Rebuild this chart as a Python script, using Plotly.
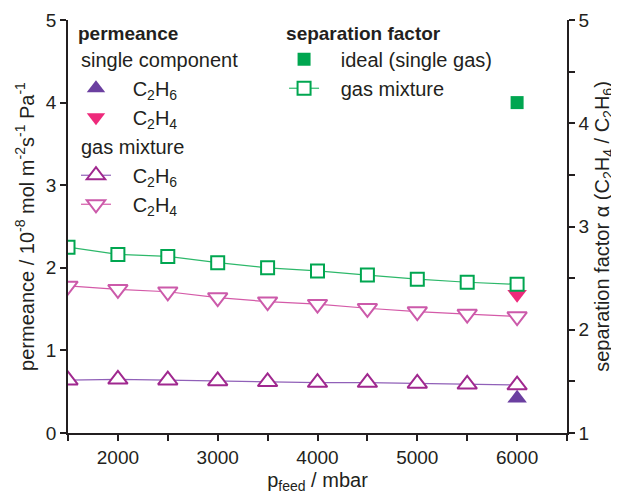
import plotly.graph_objects as go

# ---- data ----
p_feed = [1500, 2000, 2500, 3000, 3500, 4000, 4500, 5000, 5500, 6000]
perm_c2h6_mix = [0.64, 0.65, 0.64, 0.63, 0.62, 0.61, 0.61, 0.60, 0.59, 0.58]
perm_c2h4_mix = [1.78, 1.74, 1.71, 1.64, 1.59, 1.56, 1.51, 1.47, 1.44, 1.41]
sep_mix = [2.80, 2.73, 2.71, 2.65, 2.60, 2.57, 2.53, 2.49, 2.46, 2.44]

p_single = [6000]
perm_c2h6_single = [0.42]
perm_c2h4_single = [1.68]
sep_ideal = [4.20]

FONT = "Arial, Liberation Sans, Helvetica, sans-serif"
AX = "#231f20"
SP = "\u00a0\u00a0\u00a0"

fig = go.Figure()

# single component (filled)
fig.add_trace(go.Scatter(
    x=p_single, y=perm_c2h6_single, mode="markers", name=SP + "C<sub>2</sub>H<sub>6</sub>",
    marker=dict(symbol="triangle-up", size=17, color="#6b3fa0"),
    legend="legend", legendgroup="single", legendgrouptitle_text="single component"))
fig.add_trace(go.Scatter(
    x=p_single, y=perm_c2h4_single, mode="markers", name=SP + "C<sub>2</sub>H<sub>4</sub>",
    marker=dict(symbol="triangle-down", size=17, color="#ee2a7b"),
    legend="legend", legendgroup="single", legendgrouptitle_text="single component"))

# gas mixture (open, white-filled so lines break at markers)
fig.add_trace(go.Scatter(
    x=p_feed, y=perm_c2h6_mix, mode="lines+markers", name=SP + "C<sub>2</sub>H<sub>6</sub>",
    line=dict(color="#9060b8", width=1.2),
    marker=dict(symbol="triangle-up", size=17, color="white", line=dict(width=2, color="#a0288f")),
    legend="legend", legendgroup="mix", legendgrouptitle_text="gas mixture"))
fig.add_trace(go.Scatter(
    x=p_feed, y=perm_c2h4_mix, mode="lines+markers", name=SP + "C<sub>2</sub>H<sub>4</sub>",
    line=dict(color="#d45aa8", width=1.2),
    marker=dict(symbol="triangle-down", size=17, color="white", line=dict(width=2, color="#cc5aaa")),
    legend="legend", legendgroup="mix", legendgrouptitle_text="gas mixture"))

# separation factor (right axis)
fig.add_trace(go.Scatter(
    x=p_single, y=sep_ideal, mode="markers", name=SP + "ideal (single gas)", yaxis="y2",
    marker=dict(symbol="square", size=13, color="#00a650"),
    legend="legend2"))
fig.add_trace(go.Scatter(
    x=p_feed, y=sep_mix, mode="lines+markers", name=SP + "gas mixture", yaxis="y2",
    line=dict(color="#2db86a", width=1.2),
    marker=dict(symbol="square", size=13, color="white", line=dict(width=2, color="#00a650")),
    legend="legend2"))

fig.update_layout(
    width=611, height=486,
    margin=dict(l=60, r=52, t=12, b=61, autoexpand=False),
    paper_bgcolor="white", plot_bgcolor="white",
    font=dict(family=FONT, size=19, color=AX),
    xaxis=dict(
        range=[1500, 6500], tick0=0, dtick=1000, ticks="outside", ticklen=6,
        tickwidth=1.5, tickcolor=AX, showline=True, linecolor=AX, linewidth=1.5,
        showgrid=False, zeroline=False, tickfont=dict(size=19), automargin=False,
        minor=dict(dtick=500, tick0=0, ticks="outside", ticklen=6, tickwidth=1.5, tickcolor=AX, showgrid=False),
        title=dict(text="p<sub>feed</sub> / mbar", font=dict(size=20), standoff=12)),
    yaxis=dict(
        range=[0, 5], dtick=1, ticks="outside", ticklen=6, tickwidth=1.5, tickcolor=AX,
        showline=True, linecolor=AX, linewidth=1.5, showgrid=False, zeroline=False,
        tickfont=dict(size=19), automargin=False,
        title=dict(text="permeance / 10<sup>-8</sup> mol m<sup>-2</sup>s<sup>-1</sup> Pa<sup>-1</sup>",
                   font=dict(size=20), standoff=6)),
    yaxis2=dict(
        range=[1, 5], dtick=1, overlaying="y", side="right", ticks="outside", ticklen=6,
        tickwidth=1.5, tickcolor=AX, showline=True, linecolor=AX, linewidth=1.5,
        showgrid=False, zeroline=False, tickfont=dict(size=19), automargin=False,
        minor=dict(dtick=0.5, ticks="outside", ticklen=6, tickwidth=1.5, tickcolor=AX, showgrid=False),
        title=dict(text="separation factor α (C<sub>2</sub>H<sub>4</sub> / C<sub>2</sub>H<sub>6</sub>)",
                   font=dict(size=20), standoff=6)),
    legend=dict(
        x=0.016, y=1.012, xanchor="left", yanchor="top", bgcolor="rgba(0,0,0,0)",
        title=dict(text="<b>permeance</b>", font=dict(size=19)),
        font=dict(size=20), traceorder="grouped", tracegroupgap=0,
        grouptitlefont=dict(size=20), itemwidth=30),
    legend2=dict(
        x=0.433, y=1.012, xanchor="left", yanchor="top", bgcolor="rgba(0,0,0,0)",
        title=dict(text="<b>separation factor</b>", font=dict(size=19)),
        font=dict(size=20), itemwidth=30),
)

fig.write_html("out.html")
